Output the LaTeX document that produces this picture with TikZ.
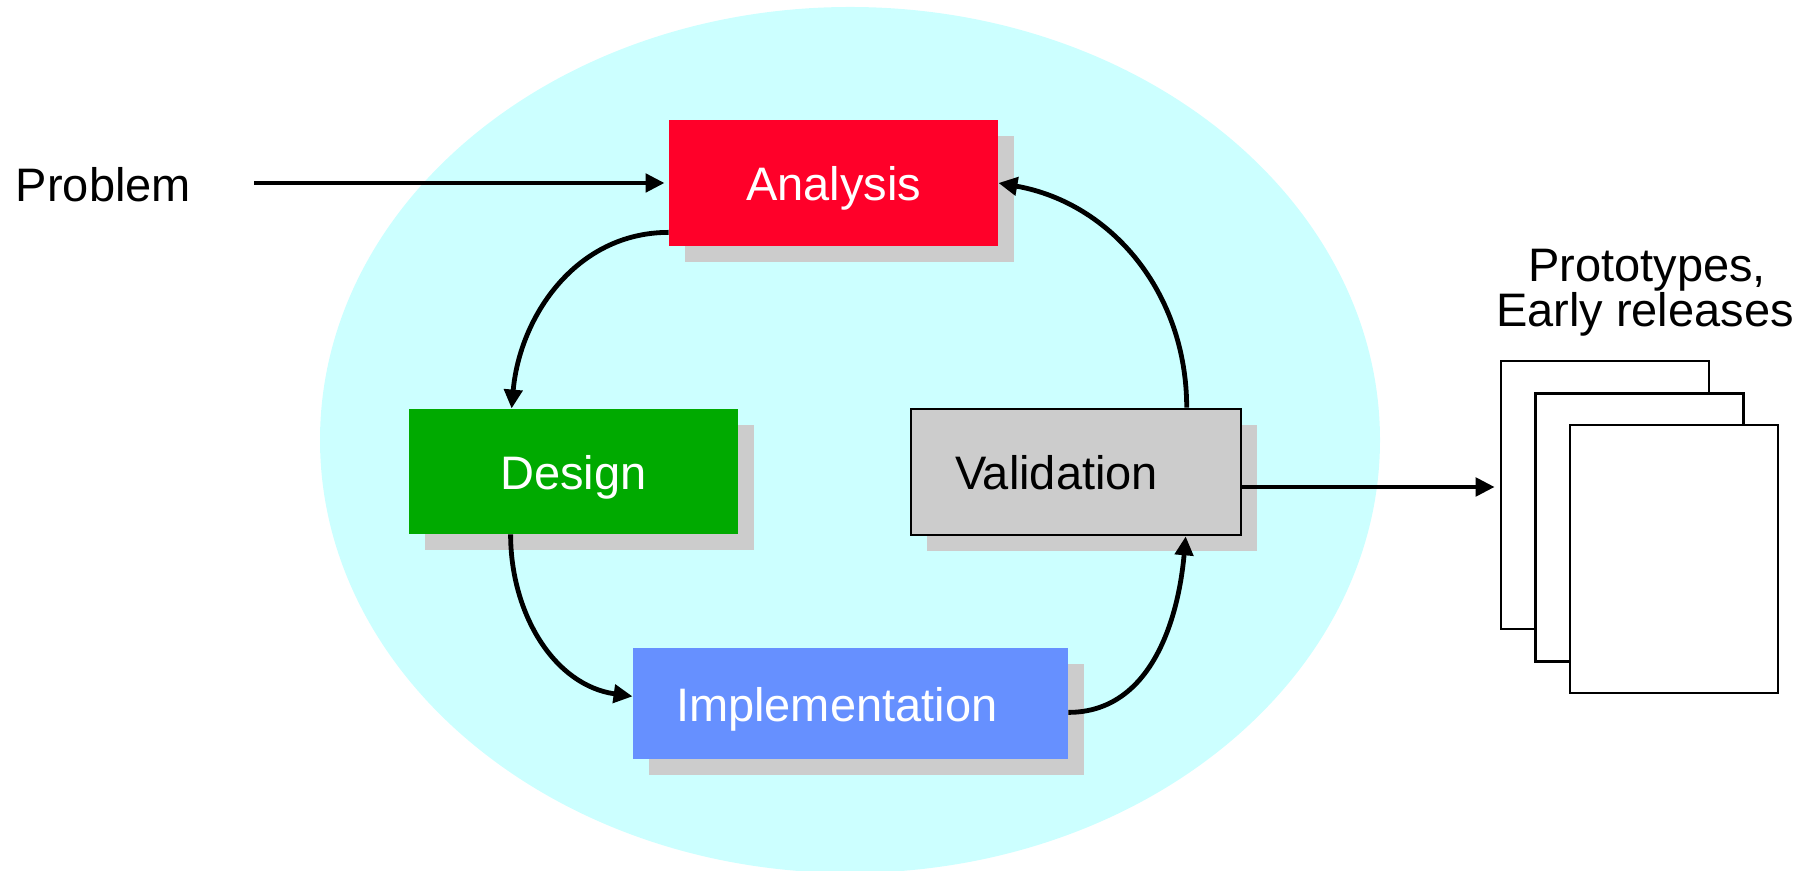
\documentclass[tikz,border=0pt]{standalone}
\usepackage{fontspec}
\setmainfont{Liberation Sans}
\usetikzlibrary{arrows.meta,calc,shadows}
\definecolor{bgcyan}{HTML}{CCFFFF}
\definecolor{anared}{RGB}{255,0,41}
\definecolor{desgreen}{RGB}{0,170,0}
\definecolor{implblue}{RGB}{102,144,255}
\definecolor{shadowgray}{HTML}{CCCCCC}
\begin{document}
\begin{tikzpicture}[x=0.5pt,y=0.5pt,
  every node/.style={font=\fontsize{23.5pt}{28pt}\selectfont},
  box/.style={rectangle, inner sep=0pt, text height=18pt, text depth=0pt,
    drop shadow={shadow xshift=8pt, shadow yshift=-8pt, fill=shadowgray, opacity=1}},
  lbl/.style={inner sep=0pt, anchor=base},
  arr/.style={line width=2.4pt, -{Triangle[length=9.5pt,width=9pt]}},
  doc/.style={draw, line width=1.3pt, fill=white, minimum width=104pt, minimum height=134pt, inner sep=0pt}]
\useasboundingbox (0,0) rectangle (1814,871);
\fill[bgcyan] (850,431) ellipse [x radius=265pt, y radius=216.5pt];

\node[box, fill=anared, text=white, minimum width=164.5pt, minimum height=63pt] (analysis) at (833.5,688) {Analysis};
\node[box, fill=desgreen, text=white, minimum width=164.5pt, minimum height=62.5pt] (design) at (573.5,399.5) {Design};
\node[box, fill=implblue, text=white, minimum height=55.5pt, text width=217.5pt, align=left] (impl) at (850.5,167.5) {\hspace*{21.5pt}Implementation};
\node[box, fill=shadowgray, draw, line width=1.3pt, minimum height=63pt, text width=165pt, align=left] (valid) at (1076,399) {\hspace*{22pt}Validation};

\node[doc] (doc1) at (1605,376) {};
\node[doc] (doc2) at (1639.5,343.5) {};
\node[doc] (doc3) at (1674,312) {};

\node[lbl] (proto1) at (1647,589) {Prototypes,};
\node[lbl] (proto2) at (1645,544) {Early releases};
\node[lbl] (problem) at (103.5,669) {Problem};

\draw[arr, shorten <=31.5pt, shorten >=2pt] (problem.east |- analysis.west) -- (analysis.west);
\draw[arr] ($(analysis.south west)+(0,14)$) to[out=180,in=85] ($(design.north west)+(103,0)$);
\draw[arr] ($(design.south west)+(102,0)$) to[out=-90,in=172] ($(impl.south west)+(0,63)$);
\draw[arr] ($(impl.south east)+(0,47)$) to[out=0,in=-95] ($(valid.south west)+(276,0)$);
\draw[arr] ($(valid.north west)+(277,0)$) to[out=90,in=-10] (analysis.east);
\coordinate (vout) at ($(valid.east)+(0,-15)$);
\draw[arr, shorten >=2.5pt] (vout) -- (vout -| doc1.west);
\end{tikzpicture}
\end{document}
